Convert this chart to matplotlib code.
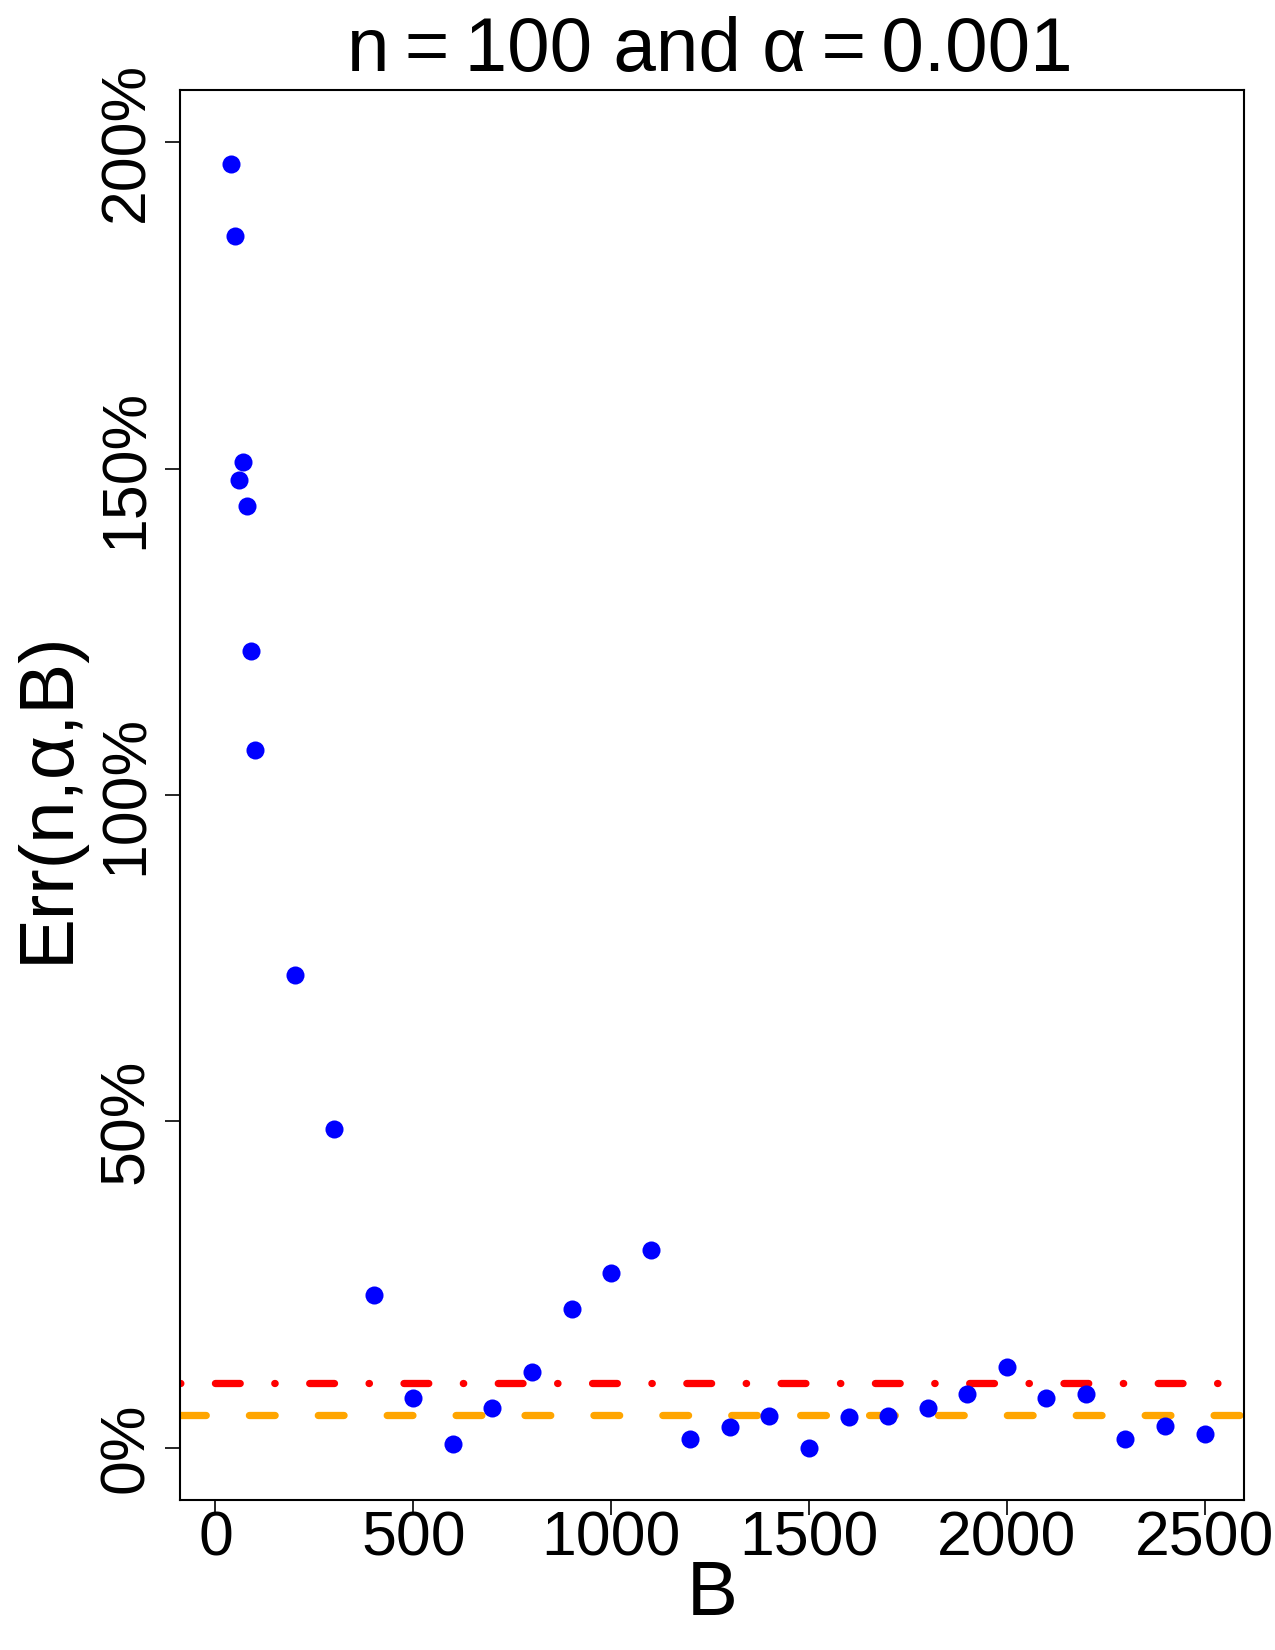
import matplotlib
matplotlib.use("Agg")
import matplotlib.pyplot as plt

plt.rcParams["font.family"] = ["Liberation Sans", "DejaVu Sans"]

# valores
B = [40, 50, 60, 70, 80, 90, 100, 200, 300, 400, 500, 600, 700, 800, 900,
     1000, 1100, 1200, 1300, 1400, 1500, 1600, 1700, 1800, 1900, 2000,
     2100, 2200, 2300, 2400, 2500]
err = [196.6, 185.6, 148.2, 151.0, 144.2, 122.1, 106.9, 72.4, 48.9, 23.4,
       7.6, 0.6, 6.1, 11.6, 21.3, 26.8, 30.3, 1.3, 3.2, 4.8, 0.0, 4.7, 4.8,
       6.1, 8.2, 12.3, 7.6, 8.2, 1.3, 3.4, 2.1]
linha_vermelha = 10
linha_laranja = 5

x_ticks = [0, 500, 1000, 1500, 2000, 2500]
y_ticks = [0, 50, 100, 150, 200]
y_labels = ["0%", "50%", "100%", "150%", "200%"]

fig = plt.figure(figsize=(12.75, 16.5), dpi=100)
ax = fig.add_axes([180 / 1275, 1 - 1500 / 1650, 1064 / 1275, 1410 / 1650])

ax.plot(B, err, "o", color="blue", markersize=13, markeredgewidth=0, zorder=3)

lw = 5.25
ax.axhline(linha_vermelha, color="red", lw=lw, dash_capstyle="round",
           dashes=(0.05, 4.74, 3.4, 4.74))
ax.axhline(linha_laranja, color="orange", lw=lw, dash_capstyle="round",
           dashes=(3.53, 5.92))

ax.set_xlim(-89.6, 2599.6)
ax.set_ylim(-8, 208)
ax.set_xticks(x_ticks)
ax.set_yticks(y_ticks)
ax.set_yticklabels(y_labels, rotation=90, va="center")

for s in ax.spines.values():
    s.set_linewidth(1.5)
ax.tick_params(axis="both", length=10.8, width=1.2, labelsize=45)
ax.tick_params(axis="x", pad=-4)
ax.tick_params(axis="y", pad=6.5)

fig.text(710 / 1275, 1 - 71 / 1650, "n\u2009=\u2009100 and α\u2009=\u20090.001",
         fontsize=55, ha="center", va="baseline")
fig.text(712 / 1275, 1 - 1615 / 1650, "B", fontsize=55, ha="center", va="baseline")
fig.text(68 / 1275, 1 - 797 / 1650, "Err(n,α,B)", fontsize=55, rotation=90,
         rotation_mode="anchor", ha="center", va="baseline")

fig.savefig("out.png", dpi=100)
